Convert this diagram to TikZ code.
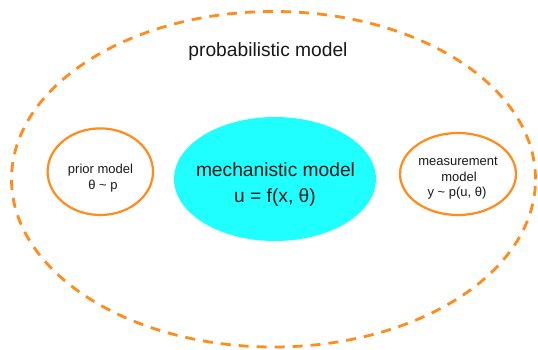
\documentclass[tikz,border=0pt]{standalone}
\usepackage{fontspec}
\setmainfont{Liberation Sans}
\usetikzlibrary{shapes.geometric}
\definecolor{korange}{RGB}{255,140,28}
\definecolor{kcyan}{RGB}{32,255,255}
\definecolor{ktext}{RGB}{25,25,25}
\tikzset{
  outerell/.style={ellipse, draw=korange, line width=2.8pt, dash pattern=on 10pt off 8pt, inner sep=0pt, outer sep=0pt},
  subell/.style={ellipse, draw=korange, line width=2.2pt, inner sep=0pt, outer sep=0pt},
  mechell/.style={ellipse, fill=kcyan, inner sep=0pt, outer sep=0pt},
  bigtxt/.style={anchor=base, inner sep=0pt, text=ktext, font=\fontsize{19.2}{23}\selectfont},
  smalltxt/.style={anchor=base, inner sep=0pt, text=ktext, font=\fontsize{13}{16}\selectfont},
}
\begin{document}
\begin{tikzpicture}[x=1pt,y=-1pt]
\useasboundingbox (0,0) rectangle (538,350);
\fill[white] (0,0) rectangle (538,350);
\node[outerell, minimum width=524pt, minimum height=335.5pt] (prob) at (273.5,179.25) {};
\node[bigtxt] (probT) at (268,57) {probabilistic model};
% mechanistic model
\node[mechell, minimum width=202pt, minimum height=124pt] (mech) at (275,179) {};
\node[bigtxt] (mechT1) at (275.5,176) {mechanistic model};
\node[bigtxt] (mechT2) at (275,202) {u = f(x, θ)};
% prior model
\node[subell, minimum width=105.4pt, minimum height=86.6pt] (prior) at (100.3,171.7) {};
\node[smalltxt] (priorT1) at (100.5,173) {prior model};
\node[smalltxt] (priorT2) at (103,189) {θ \~{} p};
% measurement model
\node[subell, minimum width=116pt, minimum height=82pt] (meas) at (458,174) {};
\node[smalltxt] (measT1) at (458,165) {measurement};
\node[smalltxt] (measT2) at (459,181) {model};
\node[smalltxt] (measT3) at (457,196) {y \~{} p(u, θ)};
\end{tikzpicture}
\end{document}
